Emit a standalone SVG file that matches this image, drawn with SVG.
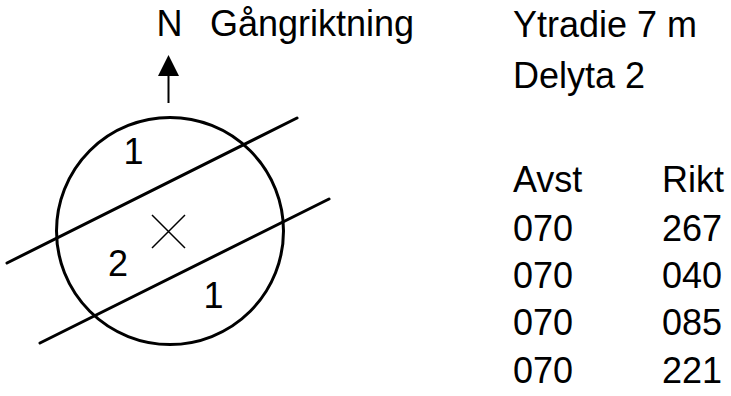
<svg xmlns="http://www.w3.org/2000/svg" width="731" height="396" viewBox="0 0 731 396">
  <style>
    text { font-family: "Liberation Sans", Arial, sans-serif; font-size: 36px; fill: #000; }
    .thick { fill: none; stroke: #000; stroke-width: 3; stroke-linecap: round; }
    .thin { fill: none; stroke: #000; stroke-width: 1.5; }
  </style>
  <rect width="731" height="396" fill="#fff"/>
  <g id="north">
    <text x="156.5" y="36">N</text>
    <line x1="168.5" y1="103" x2="168.5" y2="74" stroke="#000" stroke-width="2"/>
    <polygon points="168.5,55 158,76 179,76" fill="#000"/>
  </g>
  <text id="walk-label" x="210" y="36">Gångriktning</text>
  <g id="plot">
    <circle class="thick" cx="170" cy="231" r="113.5"/>
    <path class="thin" d="M152,215 L185,248 M152,248 L185,215"/>
  </g>
  <g id="strips">
    <line class="thick" x1="7" y1="263" x2="297" y2="118"/>
    <line class="thick" x1="40" y1="343" x2="329" y2="199"/>
  </g>
  <g id="labels">
    <text x="123.5" y="164">1</text>
    <text x="108" y="276">2</text>
    <text x="203.5" y="308">1</text>
  </g>
  <g id="table">
    <text x="513" y="37">Ytradie 7 m</text>
    <text x="513" y="88">Delyta 2</text>
    <text x="513" y="192">Avst</text>
    <text x="662" y="192">Rikt</text>
    <text x="513" y="240.5">070</text>
    <text x="662" y="240.5">267</text>
    <text x="513" y="288">070</text>
    <text x="662" y="288">040</text>
    <text x="513" y="335">070</text>
    <text x="662" y="335">085</text>
    <text x="513" y="382.5">070</text>
    <text x="662" y="382.5">221</text>
  </g>
</svg>
